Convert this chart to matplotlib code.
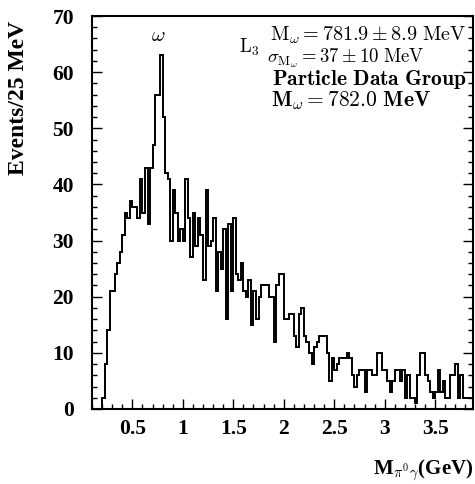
import matplotlib
matplotlib.use("Agg")
import matplotlib.pyplot as plt
import numpy as np
from matplotlib.ticker import MultipleLocator

# events per 25 MeV bin, starting at 0.2 GeV
counts = [
    2, 8, 14, 21, 21, 24, 26, 28, 31, 35, 34, 37, 36, 36, 34, 41, 35, 43, 33, 43,
    47, 56, 56, 63, 52, 42, 41, 30, 39, 35, 30, 32, 30, 41, 34, 27, 35, 29, 34, 31,
    23, 39, 29, 30, 34, 21, 28, 25, 32, 16, 33, 21, 34, 24, 23, 26, 21, 20, 23, 15,
    21, 16, 20, 22, 22, 22, 20, 20, 12, 22, 24, 24, 16, 16, 17, 17, 13, 11, 17, 18,
    13, 12, 10, 8, 11, 12, 13, 13, 13, 10, 5, 9, 7, 8, 9, 9, 9, 10, 9, 6,
    4, 6, 7, 7, 3, 7, 7, 6, 6, 10, 10, 7, 7, 5, 3, 5, 7, 7, 5, 7,
    2, 6, 2, 2, 1, 6, 10, 10, 6, 5, 3, 2, 3, 7, 3, 5, 2, 2, 6, 6,
    8, 2, 6, 2, 2, 2, 2,
]
bin_start = 0.2
bin_width = 0.025

xticks = [0.5, 1, 1.5, 2, 2.5, 3, 3.5]
xticklabels = ["0.5", "1", "1.5", "2", "2.5", "3", "3.5"]
yticks = [0, 10, 20, 30, 40, 50, 60, 70]

plt.rcParams["font.family"] = ["Liberation Serif", "DejaVu Serif"]
plt.rcParams["mathtext.fontset"] = "cm"

fig = plt.figure(figsize=(4.75, 4.84), dpi=100)
ax = fig.add_axes([92 / 475, 75 / 484, 381 / 475, 393 / 484])

edges = bin_start + bin_width * np.arange(len(counts) + 1)
ax.stairs(counts, edges, color="black", linewidth=1.4)

ax.set_xlim(0.1, 3.875)
ax.set_ylim(0, 70)
ax.set_xticks(xticks)
ax.set_xticklabels(xticklabels)
ax.set_yticks(yticks)
ax.xaxis.set_minor_locator(MultipleLocator(0.1))
ax.yaxis.set_minor_locator(MultipleLocator(2))
ax.tick_params(which="both", direction="in", right=True, top=False,
               width=1.0, labelsize=15.5)
ax.tick_params(which="major", length=7)
ax.tick_params(which="minor", length=3.5)
ax.tick_params(axis="x", pad=7)
ax.tick_params(axis="y", pad=13)
for lab in ax.get_xticklabels() + ax.get_yticklabels():
    lab.set_fontweight("bold")
for sp in ax.spines.values():
    sp.set_linewidth(1.5)

fig.text(19 / 475, 1 - 98 / 484, "Events/25 MeV", rotation=90, ha="center",
         va="center", fontsize=17, fontweight="bold")
fig.text(473 / 475, 1 - 470 / 484, r"M$_{\pi^0\gamma}$(GeV)", ha="right",
         va="center", fontsize=15, fontweight="bold")

ax.text(0.76, 66.3, r"$\omega$", ha="center", va="center", fontsize=15)
ax.text(1.56, 64.4, r"$\mathrm{L}_3$", ha="left", va="center", fontsize=13.5)
ax.text(3.81, 66.6, r"$\mathrm{M}_\omega = 781.9 \pm 8.9\ \mathrm{MeV}$",
        ha="right", va="center", fontsize=14.5)
ax.text(1.83, 62.5, r"$\sigma_{\mathrm{M}_\omega} = 37 \pm 10\ \mathrm{MeV}$",
        ha="left", va="center", fontsize=13.5)
ax.text(3.81, 58.7, r"$\mathbf{Particle\ Data\ Group}$",
        ha="right", va="center", fontsize=15.5)
ax.text(1.87, 54.9, r"$\mathbf{M}_\omega \mathbf{= 782.0\ MeV}$",
        ha="left", va="center", fontsize=15.5)

fig.savefig("out.png", dpi=100)
